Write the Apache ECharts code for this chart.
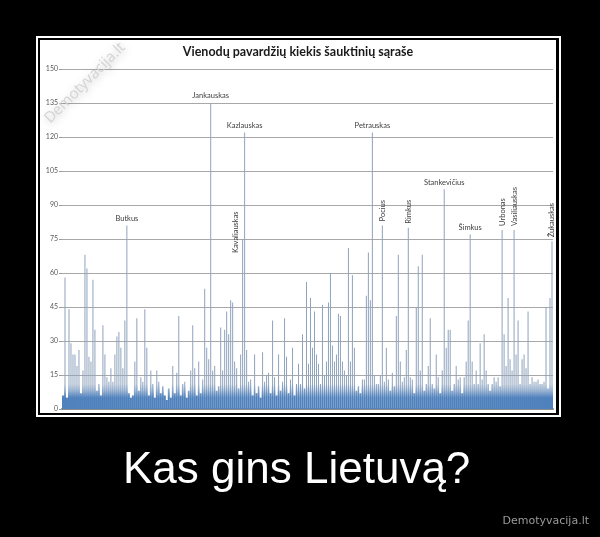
<!DOCTYPE html>
<html><head><meta charset="utf-8">
<script src="https://cdn.jsdelivr.net/npm/echarts@6/dist/echarts.min.js"></script>
<style>html,body{margin:0;padding:0;background:#000;}#c{width:600px;height:537px;}</style>
</head><body><div id="c"></div>
<script>
const chartTitle = 'Vienodų pavardžių kiekis šauktinių sąraše';
const caption = 'Kas gins Lietuvą?';
const watermark = 'Demotyvacija.lt';
const yMin = 0, yMax = 150, yStep = 15;

// count of conscripts sharing each surname (one bar per surname group)
const counts = [
  6, 58, 5, 44, 29, 24, 24, 19, 26, 7,
  17, 68, 62, 23, 21, 57, 35, 8, 11, 6,
  37, 24, 14, 12, 18, 12, 24, 32, 34, 27,
  18, 39, 81, 7, 5, 6, 21, 40, 8, 14,
  12, 44, 27, 6, 17, 11, 5, 17, 12, 7,
  10, 6, 4, 9, 5, 19, 7, 16, 41, 6,
  11, 12, 5, 8, 17, 37, 18, 6, 21, 7,
  13, 53, 27, 22, 135, 17, 19, 8, 10, 36,
  17, 35, 43, 33, 48, 47, 21, 18, 9, 24,
  75, 122, 26, 12, 13, 6, 24, 7, 10, 5,
  25, 12, 15, 16, 7, 39, 14, 6, 24, 8,
  12, 40, 23, 7, 13, 27, 6, 11, 20, 11,
  33, 9, 56, 20, 49, 27, 43, 24, 20, 11,
  46, 15, 21, 47, 60, 28, 21, 24, 42, 41,
  21, 17, 15, 71, 21, 59, 27, 8, 10, 7,
  13, 13, 50, 69, 48, 122, 15, 11, 11, 15,
  81, 12, 27, 13, 8, 16, 10, 41, 68, 21,
  12, 14, 26, 80, 14, 13, 7, 45, 63, 17,
  68, 8, 11, 19, 40, 11, 9, 24, 14, 7,
  17, 97, 27, 35, 35, 8, 11, 19, 13, 14,
  7, 14, 21, 39, 77, 21, 11, 17, 11, 29,
  13, 33, 17, 11, 8, 11, 14, 12, 14, 10,
  79, 33, 19, 49, 22, 17, 79, 24, 39, 11,
  22, 24, 18, 43, 11, 14, 12, 12, 13, 11,
  11, 12, 45, 9, 49, 74
];

// labelled surnames: name, bar index, vertical text?
const labelNames    = ['Butkus', 'Jankauskas', 'Kavaliauskas', 'Kazlauskas', 'Petrauskas', 'Pocius', 'Rimkus', 'Stankevičius', 'Šimkus', 'Urbonas', 'Vasiliauskas', 'Žukauskas'];
const labelIndex    = [32, 74, 90, 91, 155, 160, 173, 191, 204, 220, 226, 245];
const labelVertical = [false, false, true, false, false, true, true, false, false, true, true, true];

const categories = counts.map((_, i) => {
  const k = labelIndex.indexOf(i);
  return k >= 0 ? labelNames[k] : 'p' + (i + 1);
});

const lineData = counts.map((v, i) => {
  const k = labelIndex.indexOf(i);
  if (k < 0) return v;
  const vert = labelVertical[k];
  const lab = {
    show: true, formatter: labelNames[k], position: 'top', distance: vert ? 4 : 3,
    fontSize: 7.5, color: '#404040', fontFamily: 'Lato',
    rotate: vert ? 90 : 0, align: vert ? 'left' : 'center', verticalAlign: vert ? 'middle' : 'bottom'
  };
  if (labelNames[k] === 'Kavaliauskas') { lab.offset = [-18, -7]; }
  return { value: v, label: lab };
});

const chart = echarts.init(document.getElementById('c'), null, { renderer: 'canvas' });
const grid = { left: 62, right: 47, top: 69, bottom: 128 };

const option = {
  animation: false,
  backgroundColor: '#000',
  textStyle: { fontFamily: 'Lato' },
  grid: grid,
  xAxis: [
    { type: 'category', data: categories, boundaryGap: true,
      axisLine: { show: true, lineStyle: { color: '#8c8c8c', width: 2 } },
      axisTick: { show: false }, axisLabel: { show: false }, splitLine: { show: false } },
    { type: 'category', data: categories, show: false, position: 'bottom' }
  ],
  yAxis: {
    type: 'value', min: yMin, max: yMax, interval: yStep,
    axisLine: { show: false },
    axisTick: { show: true, length: 3, lineStyle: { color: '#9a9a9a' } },
    axisLabel: { fontSize: 7, color: '#595959', margin: 4, fontFamily: 'Lato' },
    splitLine: { lineStyle: { color: '#a8a8a8', width: 1 } }
  },
  series: [
    { name: 'lines', type: 'bar', xAxisIndex: 1, data: lineData, barWidth: 1,
      itemStyle: { color: '#8fa3bd' }, z: 2, silent: true },
    { name: 'base', type: 'bar', xAxisIndex: 0, data: counts, barWidth: '100%',
      itemStyle: { color: '#4F81BD' }, z: 3, silent: true }
  ],
  graphic: [
    { type: 'rect', shape: { x: 37, y: 37, width: 523, height: 379 }, style: { fill: 'none', stroke: '#fff', lineWidth: 2 }, z: -10 },
    { type: 'rect', shape: { x: 40, y: 40, width: 516, height: 373 }, style: { fill: '#fff' }, z: -9 },
    { type: 'text', x: 298, y: 52, style: { text: chartTitle, font: 'bold 12.5px Lato', fill: '#1a1a1a', textAlign: 'center', textVerticalAlign: 'middle' }, z: 10 },
    { type: 'text', x: 85, y: 83, rotation: Math.PI / 4, style: { text: watermark, font: '15px "Open Sans"', fill: '#d4d4d4', textAlign: 'center', textVerticalAlign: 'middle', textShadowColor: 'rgba(0,0,0,0.2)', textShadowBlur: 6, textShadowOffsetX: 1, textShadowOffsetY: 2 }, z: 10 },
    { type: 'text', x: 123, y: 471, style: { text: caption, font: '44px "Liberation Sans"', fill: '#fff', textAlign: 'left', textVerticalAlign: 'middle' }, z: 10 },
    { type: 'text', x: 589, y: 521, style: { text: watermark, font: '11px "DejaVu Sans"', fill: '#9a9a9a', textAlign: 'right', textVerticalAlign: 'middle' }, z: 10 }
  ]
};
chart.setOption(option);

// solid blue body near the floor, fading out so tall values show as thin lines
const yFloor = chart.convertToPixel({ yAxisIndex: 0 }, 0);
const yFade = chart.convertToPixel({ yAxisIndex: 0 }, 11);
chart.setOption({ series: [{}, { itemStyle: { color: {
  type: 'linear', x: 0, y: yFloor, x2: 0, y2: yFade, global: true,
  colorStops: [
    { offset: 0, color: 'rgba(79,129,189,1)' },
    { offset: 0.45, color: 'rgba(79,129,189,1)' },
    { offset: 0.75, color: 'rgba(79,129,189,0.35)' },
    { offset: 1, color: 'rgba(79,129,189,0)' }
  ] } } }] });
</script></body></html>
